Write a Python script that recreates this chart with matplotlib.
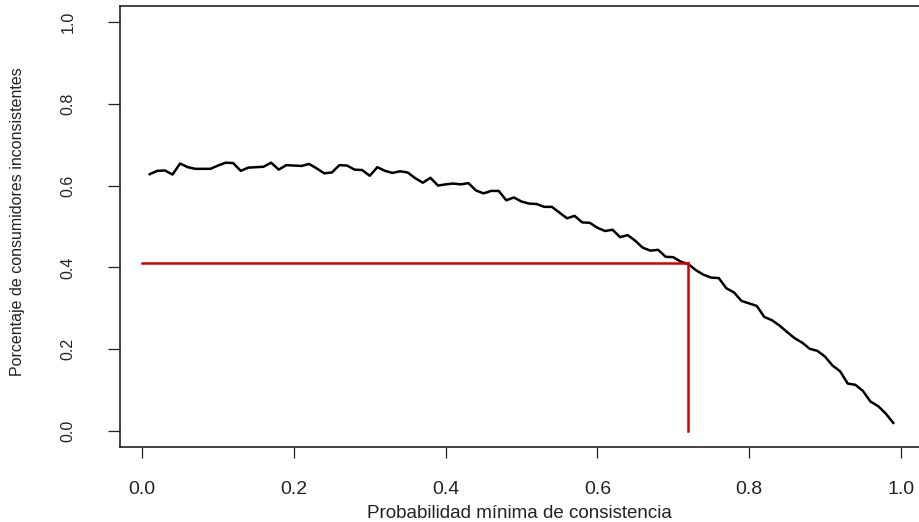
import numpy as np
import matplotlib
matplotlib.use('Agg')
import matplotlib.pyplot as plt

# Probabilidad minima de consistencia (0.01 ... 0.99)
prob_min = np.round(np.arange(1, 100) / 100, 2)

# Porcentaje de consumidores inconsistentes
pct_incons = [
    0.628, 0.636, 0.637, 0.627, 0.654, 0.645, 0.641, 0.641, 0.641, 0.649,
    0.656, 0.655, 0.636, 0.644, 0.645, 0.646, 0.656, 0.639, 0.650, 0.649,
    0.648, 0.653, 0.642, 0.630, 0.632, 0.650, 0.649, 0.639, 0.638, 0.624,
    0.645, 0.636, 0.631, 0.635, 0.632, 0.618, 0.607, 0.619, 0.600, 0.603,
    0.605, 0.603, 0.606, 0.588, 0.581, 0.587, 0.587, 0.564, 0.571, 0.561,
    0.556, 0.555, 0.548, 0.548, 0.534, 0.520, 0.526, 0.510, 0.509, 0.497,
    0.489, 0.492, 0.474, 0.479, 0.465, 0.448, 0.441, 0.443, 0.426, 0.425,
    0.414, 0.408, 0.393, 0.382, 0.375, 0.374, 0.349, 0.339, 0.318, 0.312,
    0.306, 0.279, 0.271, 0.258, 0.242, 0.227, 0.216, 0.201, 0.196, 0.182,
    0.160, 0.146, 0.116, 0.113, 0.098, 0.072, 0.061, 0.043, 0.020,
]

# Umbral marcado en rojo
umbral_x = 0.72
umbral_y = 0.41

ticks = [0.0, 0.2, 0.4, 0.6, 0.8, 1.0]
tick_labels = ['0.0', '0.2', '0.4', '0.6', '0.8', '1.0']

plt.rcParams['font.family'] = ['Liberation Sans', 'DejaVu Sans']

W, H = 919, 522
fig = plt.figure(figsize=(W / 100, H / 100), dpi=100)
# caja del grafico en pixeles (el borde derecho queda fuera de la imagen)
left, right, top, bottom = 120, 923, 5.6, 447.4
ax = fig.add_axes([left / W, 1 - bottom / H, (right - left) / W, (bottom - top) / H])

ax.plot(prob_min, pct_incons, color='black', linewidth=1.8)
ax.plot([0, umbral_x], [umbral_y, umbral_y], color='#d40000', linewidth=1.8)
ax.plot([umbral_x, umbral_x], [0, umbral_y], color='#d40000', linewidth=1.8)

ax.set_xlim(-0.0292, 1.0292)
ax.set_ylim(-0.04, 1.04)

ax.set_xticks(ticks)
ax.set_xticklabels(tick_labels, fontsize=14)
ax.set_yticks(ticks)
ax.set_yticklabels(tick_labels, fontsize=11.5, rotation=90, va='center')

ax.tick_params(axis='x', direction='out', length=8, width=0.9, pad=16, colors='#222222')
ax.tick_params(axis='y', direction='out', length=9, width=0.9, pad=23, colors='#222222')

for s in ax.spines.values():
    s.set_linewidth(1.1)
    s.set_color('#111111')

ax.set_xlabel('Probabilidad mínima de consistencia', fontsize=13.5, color='#222222')
ax.xaxis.set_label_coords((519 - left) / (right - left), -(513 - bottom) / (bottom - top))
ax.set_ylabel('Porcentaje de consumidores inconsistentes', fontsize=11.5, color='#222222')
ax.yaxis.set_label_coords(-(left - 18) / (right - left), (bottom - 222) / (bottom - top))
ax.xaxis.label.set_va('center')
ax.yaxis.label.set_va('center')

fig.savefig('out.png', dpi=100)
